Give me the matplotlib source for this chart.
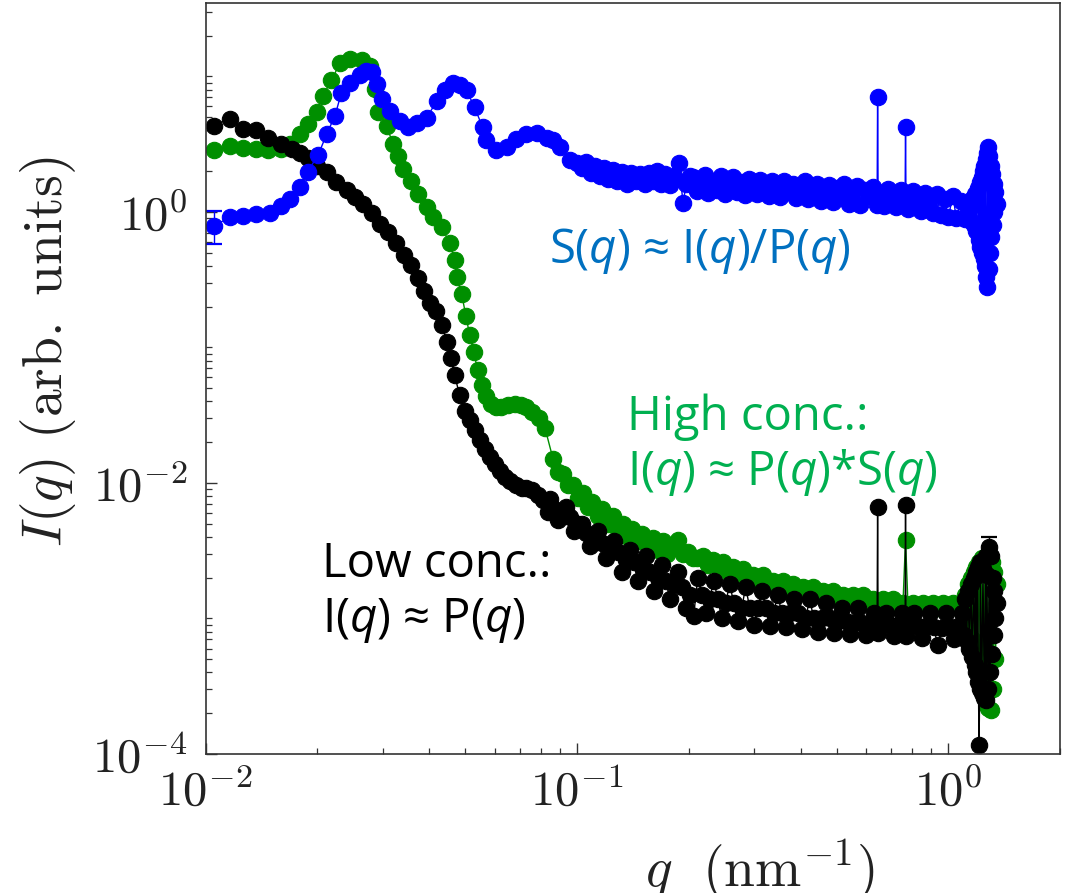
import matplotlib
matplotlib.use("Agg")
import matplotlib.pyplot as plt
from matplotlib.ticker import FixedLocator, LogLocator, NullFormatter, FuncFormatter
import numpy as np

# ---- data ----
# S(q) ~ I(q)/P(q)  (blue)
q_s = [0.0105, 0.0116, 0.0126, 0.0137, 0.0149, 0.0159, 0.0169, 0.0179, 0.0188, 0.0201,
       0.0212, 0.0223, 0.0232, 0.0245, 0.0260, 0.0270, 0.0280, 0.0289, 0.0298, 0.0313,
       0.0333, 0.0350, 0.0370, 0.0394, 0.0419, 0.0441, 0.0464, 0.0483, 0.0504, 0.0530,
       0.0557, 0.0570, 0.0606, 0.0646, 0.0687, 0.0731, 0.0778, 0.0828, 0.0862, 0.0899,
       0.0955, 0.100, 0.103, 0.106, 0.109, 0.112, 0.115, 0.118, 0.121, 0.125,
       0.128, 0.132, 0.136, 0.140, 0.144, 0.148, 0.152, 0.156, 0.160, 0.164,
       0.168, 0.173, 0.178, 0.183, 0.188, 0.193, 0.197, 0.201,
       0.205, 0.210, 0.215, 0.221, 0.226, 0.232, 0.238, 0.244, 0.250, 0.256,
       0.263, 0.269, 0.276, 0.283, 0.290, 0.297, 0.305, 0.312, 0.320, 0.328,
       0.336, 0.345, 0.353, 0.362, 0.371, 0.381, 0.390, 0.400, 0.410, 0.420,
       0.431, 0.442, 0.453, 0.464, 0.476, 0.488, 0.500, 0.513, 0.525, 0.539,
       0.552, 0.566, 0.580, 0.595, 0.610, 0.625, 0.643, 0.645, 0.647, 0.657,
       0.673, 0.690, 0.708, 0.725, 0.744, 0.765, 0.767, 0.769, 0.781, 0.801,
       0.821, 0.842, 0.863, 0.885, 0.907, 0.930, 0.953, 0.977, 1.00, 1.03,
       1.05, 1.08, 1.11, 1.13,
       1.14, 1.15, 1.16, 1.17, 1.18, 1.19, 1.20, 1.21, 1.215, 1.22,
       1.23, 1.235, 1.24, 1.245, 1.25, 1.255, 1.26, 1.265, 1.27, 1.275,
       1.28, 1.285, 1.29, 1.295, 1.30, 1.305, 1.31, 1.32, 1.325, 1.33,
       1.34, 1.35]
I_s = [0.79, 0.91, 0.94, 0.97, 0.99, 1.11, 1.25, 1.53, 1.97, 2.65,
       3.78, 5.14, 7.6, 9.0, 10.2, 11.0, 10.7, 8.8, 6.8, 5.6,
       4.7, 4.2, 4.5, 4.96, 6.6, 7.9, 9.0, 8.6, 7.9, 5.9,
       4.2, 3.37, 2.84, 2.99, 3.48, 3.78, 3.85, 3.54, 3.37, 2.99,
       2.40, 2.30, 2.10, 2.35, 1.95, 2.20, 1.85, 2.10, 1.75, 2.05,
       1.70, 1.98, 1.62, 1.95, 1.68, 1.92, 1.60, 1.95, 1.70, 2.00,
       1.62, 1.90, 1.58, 1.85, 2.30, 1.17, 1.62, 1.85,
       1.80, 1.42, 1.62, 1.88, 1.38, 1.70, 1.45, 1.84, 1.36, 1.58,
       1.80, 1.40, 1.66, 1.33, 1.76, 1.50, 1.35, 1.72, 1.45, 1.30,
       1.68, 1.52, 1.28, 1.70, 1.40, 1.62, 1.26, 1.55, 1.68, 1.24,
       1.48, 1.62, 1.20, 1.42, 1.58, 1.18, 1.50, 1.30, 1.60, 1.15,
       1.40, 1.55, 1.12, 1.45, 1.30, 1.52, 1.12, 7.10, 1.40, 1.30,
       1.10, 1.48, 1.25, 1.08, 1.45, 1.30, 4.26, 1.35, 1.05, 1.42,
       1.20, 1.02, 1.38, 1.15, 0.98, 1.35, 0.95, 1.25, 0.92, 1.32,
       0.90, 1.20, 0.88, 1.05,
       1.10, 0.85, 1.25, 0.80, 1.35, 0.72, 1.50, 0.62, 1.65, 0.55,
       1.80, 0.50, 2.00, 0.45, 2.20, 0.40, 2.45, 0.33, 0.28, 2.70,
       3.00, 0.38, 2.60, 0.50, 2.20, 0.65, 1.90, 0.80, 1.60, 1.00,
       1.40, 1.15]

# high concentration I(q) (green)
q_hi = [0.0105, 0.0116, 0.0126, 0.0137, 0.0147, 0.0159, 0.0169, 0.0179, 0.0188, 0.0199,
        0.0207, 0.0218, 0.0230, 0.0245, 0.0263, 0.0277, 0.0286, 0.0291, 0.0307, 0.0319,
        0.0329, 0.0340, 0.0358, 0.0372, 0.0394, 0.0409, 0.0433, 0.0454, 0.0468, 0.0474,
        0.0489, 0.0502, 0.0514, 0.0527, 0.0540, 0.0554, 0.0567, 0.0586, 0.0606, 0.0626,
        0.0650, 0.0680, 0.0705, 0.0731, 0.0757, 0.0790, 0.0820,
        0.0862, 0.0889, 0.0917, 0.0946, 0.0976, 0.1007, 0.104, 0.107, 0.110, 0.114,
        0.117, 0.121, 0.125, 0.129, 0.133, 0.137, 0.141, 0.146, 0.150, 0.155,
        0.160, 0.165, 0.170, 0.175, 0.181, 0.187, 0.193, 0.199, 0.205, 0.211,
        0.218, 0.225, 0.232, 0.239, 0.247, 0.255, 0.263, 0.271, 0.280, 0.288,
        0.297, 0.307, 0.316, 0.326, 0.337, 0.347, 0.358, 0.370, 0.381, 0.393,
        0.406, 0.419, 0.432, 0.445, 0.459, 0.474, 0.489, 0.504, 0.520, 0.537,
        0.554, 0.571, 0.589, 0.608, 0.627, 0.647, 0.667, 0.688, 0.710, 0.732,
        0.755, 0.767, 0.779, 0.804, 0.829, 0.855, 0.882, 0.910, 0.939, 0.968,
        0.999, 1.03, 1.06, 1.09,
        1.11, 1.12, 1.13, 1.14, 1.15, 1.16, 1.17, 1.18, 1.19, 1.20,
        1.21, 1.22, 1.23, 1.24, 1.25, 1.26, 1.27, 1.28, 1.29, 1.30,
        1.31, 1.32, 1.33, 1.34, 1.35]
I_hi = [2.84, 3.09, 2.98, 2.93, 2.84, 2.93, 3.19, 3.78, 4.49, 5.42,
        7.22, 9.33, 12.6, 13.5, 13.3, 12.0, 8.14, 5.42, 4.33, 3.19,
        2.60, 2.09, 1.70, 1.36, 1.08, 0.91, 0.77, 0.585, 0.444, 0.329,
        0.247, 0.172, 0.123, 0.092, 0.068, 0.0525, 0.0436, 0.0385, 0.0366, 0.0366,
        0.0378, 0.0385, 0.0378, 0.0362, 0.0334, 0.0302, 0.0254,
        0.0150, 0.0120, 0.0117, 0.0096, 0.0097, 0.0078, 0.0084, 0.0066, 0.0072, 0.0057,
        0.0064, 0.0050, 0.0057, 0.0045, 0.0050, 0.0040, 0.0046, 0.0037, 0.0042, 0.0035,
        0.0039, 0.0032, 0.0037, 0.0030, 0.0035, 0.0038, 0.0030, 0.0031, 0.0028, 0.0028,
        0.0029, 0.0025, 0.0027, 0.0024, 0.0026, 0.0022, 0.0024, 0.0021, 0.0023, 0.0020,
        0.0021, 0.0019, 0.0021, 0.0018, 0.0019, 0.0017, 0.0019, 0.0016, 0.0018, 0.0016,
        0.0017, 0.0015, 0.0017, 0.0015, 0.0016, 0.0014, 0.0016, 0.0014, 0.0015, 0.0014,
        0.0015, 0.0013, 0.0015, 0.0013, 0.0014, 0.0013, 0.0014, 0.00125, 0.0014, 0.00125,
        0.0013, 0.00382, 0.00122, 0.0013, 0.00122, 0.0013, 0.0012, 0.0013, 0.0012, 0.0013,
        0.0012, 0.0013, 0.0012, 0.00125,
        0.0015, 0.0010, 0.0018, 0.0008, 0.0020, 0.0007, 0.0022, 0.0006, 0.0024, 0.0005,
        0.0026, 0.00042, 0.0028, 0.00035, 0.0026, 0.00028, 0.0024, 0.00022, 0.0030, 0.00021,
        0.0026, 0.00030, 0.0022, 0.00050, 0.0018]

# low concentration I(q) (black)
q_lo = [0.0105, 0.0116, 0.0126, 0.0137, 0.0147, 0.0159, 0.0171, 0.0179, 0.0188, 0.0199,
        0.0212, 0.0225, 0.0240, 0.0252, 0.0265, 0.0280, 0.0295, 0.0310, 0.0326, 0.0342,
        0.0358, 0.0372, 0.0387, 0.0401, 0.0417, 0.0433, 0.0446, 0.0457, 0.0468, 0.0483,
        0.0499, 0.0514, 0.0530, 0.0547, 0.0564, 0.0582, 0.0600, 0.0620, 0.0640, 0.0659,
        0.0685, 0.0711, 0.0731, 0.0757, 0.0783, 0.0810, 0.0835,
        0.0845, 0.0866, 0.0888, 0.0910, 0.0933, 0.0956, 0.0980, 0.1005, 0.1030, 0.1056,
        0.1082, 0.1109, 0.1137, 0.1166, 0.1195, 0.1225, 0.1256, 0.1287, 0.1319, 0.1353,
        0.1386, 0.1421, 0.1457, 0.1494, 0.1531, 0.1570, 0.1609, 0.1649, 0.1691, 0.1733,
        0.1777, 0.1821, 0.1867, 0.1914, 0.1962, 0.2011, 0.2062, 0.2114, 0.2167, 0.2221,
        0.2277, 0.2334, 0.2393, 0.2453, 0.2514, 0.2578, 0.2642, 0.2709, 0.2777, 0.2846,
        0.2918, 0.2991, 0.3066, 0.3143, 0.3222, 0.3303, 0.3386, 0.3471, 0.3558, 0.3648,
        0.3739, 0.3833, 0.3929, 0.4028, 0.4129, 0.4233, 0.4339, 0.4448, 0.4560, 0.4674,
        0.4792, 0.4912, 0.5035, 0.5162, 0.5291, 0.5424, 0.5560, 0.5700, 0.5843, 0.5990,
        0.6140, 0.6294, 0.643, 0.645, 0.647, 0.6614, 0.6780, 0.6950, 0.7125, 0.7304,
        0.7487, 0.765, 0.767, 0.769, 0.7868, 0.8066, 0.8268, 0.8476, 0.8689, 0.8907,
        0.9131, 0.9360, 0.9595, 0.9836, 1.0083, 1.0336, 1.0596, 1.0862,
        1.10, 1.11, 1.12, 1.13, 1.14, 1.15, 1.16, 1.17, 1.18,
        1.185, 1.19, 1.20, 1.205, 1.21, 1.215, 1.22, 1.23, 1.24, 1.25,
        1.26, 1.265, 1.27, 1.28, 1.29, 1.295, 1.30, 1.31, 1.32, 1.325,
        1.33, 1.34, 1.35]
I_lo = [4.34, 4.88, 4.12, 3.99, 3.54, 3.19, 2.93, 2.74, 2.48, 2.20,
        1.97, 1.65, 1.44, 1.28, 1.15, 0.99, 0.82, 0.706, 0.585, 0.484,
        0.403, 0.323, 0.263, 0.214, 0.187, 0.146, 0.109, 0.083, 0.0624, 0.0444,
        0.0341, 0.0289, 0.0244, 0.0206, 0.0177, 0.0155, 0.0137, 0.0123, 0.0111, 0.0104,
        0.0097, 0.0092, 0.0092, 0.0088, 0.0082, 0.00743, 0.00608,
        0.0076, 0.0064, 0.0053, 0.0060, 0.0066, 0.0056, 0.0044, 0.0050, 0.0050, 0.0043,
        0.0034, 0.0040, 0.0044, 0.0036, 0.0028, 0.0033, 0.0037, 0.0031, 0.0022, 0.0027,
        0.0032, 0.0026, 0.0019, 0.0024, 0.0029, 0.0022, 0.0016, 0.0020, 0.0025, 0.0019,
        0.0014, 0.0018, 0.0022, 0.0017, 0.0012, 0.0015, 0.00105, 0.0020, 0.0015, 0.0011,
        0.0014, 0.0019, 0.0014, 0.00100, 0.0013, 0.0018, 0.0013, 0.00095, 0.0012, 0.0017,
        0.0012, 0.00090, 0.0012, 0.0016, 0.0012, 0.00088, 0.0011, 0.0015, 0.0011, 0.00086,
        0.0011, 0.0014, 0.0011, 0.00084, 0.0010, 0.0014, 0.0010, 0.00080, 0.0010, 0.0013,
        0.0010, 0.00078, 0.00095, 0.0012, 0.00095, 0.00077, 0.00092, 0.0012, 0.00093, 0.00076,
        0.00090, 0.0011, 0.00092, 0.00661, 0.00078, 0.00092, 0.0011, 0.00090, 0.00074, 0.00090,
        0.0011, 0.00088, 0.00684, 0.00074, 0.00088, 0.0011, 0.00088, 0.00072, 0.00088, 0.0011,
        0.00086, 0.00064, 0.00085, 0.0011, 0.00086, 0.00070, 0.00088, 0.0011,
        0.00075, 0.0014, 0.00068, 0.0016, 0.00060, 0.0018, 0.00052, 0.0020, 0.00045,
        0.0022, 0.00040, 0.0024, 0.00034, 0.000116, 0.00030, 0.0026, 0.00028, 0.0023, 0.00026,
        0.0029, 0.00025, 0.0021, 0.00030, 0.00335, 0.00040, 0.0029, 0.00055, 0.0020, 0.00075,
        0.0016, 0.0010, 0.0013]

# the two visible error bars
err_s_q, err_s_I, err_s_lo, err_s_hi = [0.0105], [0.79], [0.215], [0.23]
err_lo_q, err_lo_I, err_lo_e = [1.29], [0.00335], [0.00062]

# ---- style ----
plt.rcParams['mathtext.fontset'] = 'cm'
plt.rcParams['mathtext.rm'] = 'Open Sans'
plt.rcParams['mathtext.it'] = 'Open Sans:italic'
plt.rcParams['font.family'] = ['Open Sans', 'DejaVu Sans']

c_blue, c_green, c_black = '#0000ff', '#008f00', '#000000'
mk = dict(marker='o', ms=11.8, mew=0.8, lw=1.0)

fig = plt.figure(figsize=(10.76, 8.93), dpi=100)
ax = fig.add_axes([0.1912, 0.1557, 0.7940, 0.8413])

ax.plot(q_hi, I_hi, color=c_green, mfc=c_green, mec=c_green, **mk)
ax.plot(q_lo, I_lo, color=c_black, mfc=c_black, mec=c_black, **mk)
ax.errorbar(err_lo_q, err_lo_I, yerr=err_lo_e, fmt='none', ecolor=c_black,
            elinewidth=1.0, capsize=6, capthick=1.6)
ax.plot(q_s, I_s, color=c_blue, mfc=c_blue, mec=c_blue, **mk)
ax.errorbar(err_s_q, err_s_I, yerr=[err_s_lo, err_s_hi], fmt='none', ecolor=c_blue,
            elinewidth=1.0, capsize=6, capthick=1.6)

ax.set_xscale('log')
ax.set_yscale('log')
ax.set_xlim(0.01, 2.0)
ax.set_ylim(1e-4, 35)

fmt = FuncFormatter(lambda v, p: r'$10^{%d}$' % int(round(np.log10(v))))
ax.xaxis.set_major_locator(FixedLocator([1e-2, 1e-1, 1e0]))
ax.yaxis.set_major_locator(FixedLocator([1e-4, 1e-2, 1e0]))
for a in (ax.xaxis, ax.yaxis):
    a.set_major_formatter(fmt)
    a.set_minor_locator(LogLocator(base=10, subs=np.arange(1, 10), numticks=100))
    a.set_minor_formatter(NullFormatter())

ax.tick_params(which='both', direction='in', top=False, right=False,
               colors='#333333', labelcolor='#222222', labelsize=35)
ax.tick_params(which='major', length=8, width=1.0)
ax.tick_params(which='minor', length=4, width=0.9)
ax.tick_params(axis='x', which='major', pad=10)
ax.tick_params(axis='y', which='major', pad=13)
for s in ax.spines.values():
    s.set_color('#333333')
    s.set_linewidth(1.2)

ax.set_xlabel(r'$q\ \ (\mathrm{nm}^{-1})$', fontsize=40, color='#222222')
ax.set_ylabel(r'$I(q)\ \mathrm{(arb.\ units)}$', fontsize=40, color='#222222')
ax.xaxis.set_label_coords(0.649, -0.112)
ax.yaxis.set_label_coords(-0.149, 0.535)

tk = dict(transform=ax.transAxes, fontsize=34, va='baseline', ha='left',
          math_fontfamily='custom')
ax.text(0.402, 0.6535, r'S($q$) ≈ I($q$)/P($q$)', color='#0070c0', **tk)
ax.text(0.493, 0.431, 'High conc.:', color='#00b050', **tk)
ax.text(0.493, 0.358, r'I($q$) ≈ P($q$)*S($q$)', color='#00b050', **tk)
ax.text(0.136, 0.236, 'Low conc.:', color='#000000', **tk)
ax.text(0.136, 0.162, r'I($q$) ≈ P($q$)', color='#000000', **tk)

fig.savefig('out.png', dpi=100)
